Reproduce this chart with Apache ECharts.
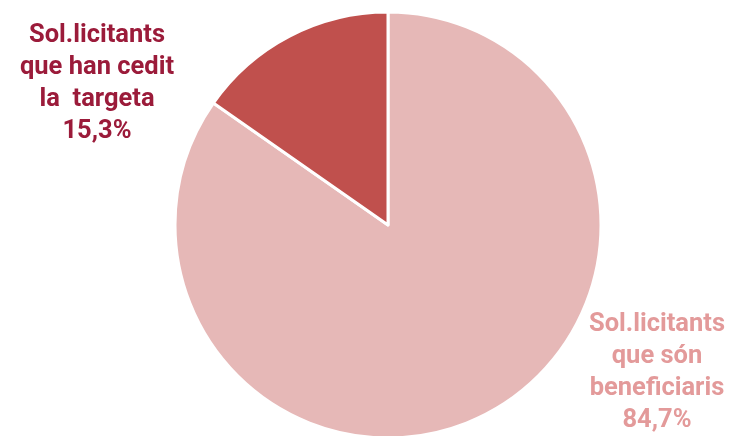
<!DOCTYPE html>
<html><head><meta charset="utf-8">
<script src="https://cdn.jsdelivr.net/npm/echarts@6/dist/echarts.min.js"></script>
<style>html,body{margin:0;padding:0;background:#fff}#c{width:732px;height:436px}</style>
</head><body><div id="c"></div>
<script>
const categories = ["Sol.licitants\nque són\nbeneficiaris", "Sol.licitants\nque han cedit\nla  targeta"];
const values = [84.7, 15.3];
const valueLabels = ["84,7%", "15,3%"];
const sliceColors = ["#e6b8b7", "#c0504d"];
const labelColors = ["#e39a9a", "#9b1b3a"];
const labelPos = [[657, 373], [97, 84]];

const chart = echarts.init(document.getElementById('c'), null, {renderer: 'canvas'});
chart.setOption({
  animation: false,
  series: [{
    type: 'pie',
    center: [388, 225],
    radius: [0, 213],
    startAngle: 90,
    clockwise: true,
    itemStyle: {borderColor: '#ffffff', borderWidth: 3},
    labelLine: {show: false},
    data: categories.map((c, i) => ({
      name: c,
      value: values[i],
      itemStyle: {color: sliceColors[i]},
      label: {
        show: true,
        formatter: c + "\n" + valueLabels[i],
        color: labelColors[i],
        fontFamily: 'Roboto',
        fontWeight: 'bold',
        fontSize: 25.5,
        lineHeight: 32,
        align: 'center'
      }
    })),
    labelLayout: function (p) {
      return {x: labelPos[p.dataIndex][0], y: labelPos[p.dataIndex][1], align: 'center', verticalAlign: 'middle'};
    }
  }]
});
</script></body></html>
